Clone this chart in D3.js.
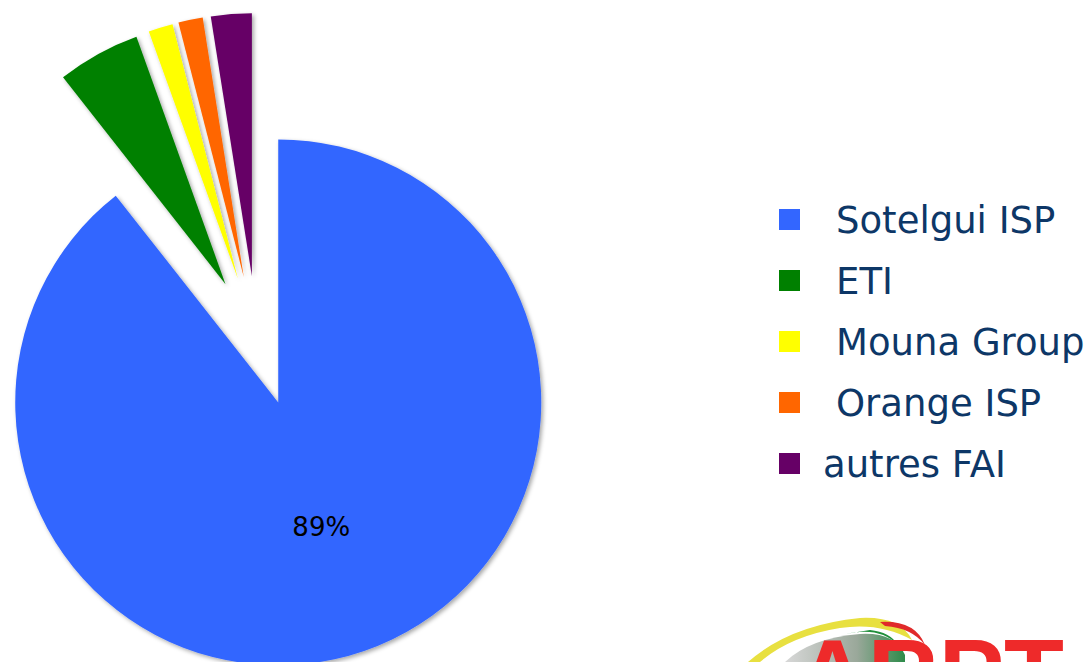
<!DOCTYPE html>
<html>
<head>
<meta charset="utf-8">
<script src="https://cdn.jsdelivr.net/npm/d3@7"></script>
<style>
  html, body { margin: 0; padding: 0; background: #ffffff; }
  svg { display: block; }
</style>
</head>
<body>
<svg id="chart" width="1090" height="662"></svg>
<script>
// ---- data ----
const categories = ["Sotelgui ISP", "ETI", "Mouna Group", "Orange ISP", "autres FAI"];
const shares = [89.4, 5.1, 1.5, 1.5, 2.5];
const colors = ["#3366FF", "#008000", "#FFFF00", "#FF6600", "#660066"];
const labelShown = [true, false, false, false, false];

// ---- layout ----
const W = 1090, H = 662;
const cx = 257, cy = 341, R = 263, explode = 65;

const svg = d3.select("#chart");
const defs = svg.append("defs");
const f = defs.append("filter").attr("id", "shadow")
  .attr("x", "-20%").attr("y", "-20%").attr("width", "140%").attr("height", "140%");
f.append("feDropShadow").attr("dx", 2).attr("dy", 2).attr("stdDeviation", 2.2)
  .attr("flood-color", "#000").attr("flood-opacity", 0.35);

const data = categories.map((c, i) => ({ name: c, value: shares[i], color: colors[i], label: labelShown[i] }));
const pie = d3.pie().sort(null).value(d => d.value).startAngle(0).endAngle(2 * Math.PI);
const arcs = pie(data);
const arc = d3.arc().innerRadius(0).outerRadius(R);

const g = svg.append("g").attr("transform", `translate(${cx},${cy})`);
const slices = g.selectAll("g.slice").data(arcs).enter().append("g")
  .attr("class", "slice")
  .attr("transform", d => {
    const a = (d.startAngle + d.endAngle) / 2;
    return `translate(${explode * Math.sin(a)},${-explode * Math.cos(a)})`;
  });
slices.append("path")
  .attr("d", arc)
  .attr("fill", d => d.data.color)
  .attr("filter", "url(#shadow)");

const total = d3.sum(shares);
slices.filter(d => d.data.label).append("text")
  .attr("transform", d => { const c = arc.centroid(d); return `translate(${c[0]},${c[1]})`; })
  .attr("text-anchor", "middle")
  .attr("dy", "0.36em")
  .attr("font-family", "DejaVu Sans, Verdana, sans-serif")
  .attr("font-size", 26)
  .attr("fill", "#000")
  .text(d => Math.round(d.data.value / total * 100) + "%");

// ---- legend ----
const leg = svg.append("g").attr("transform", "translate(779,209)");
const rows = leg.selectAll("g").data(data).enter().append("g")
  .attr("transform", (d, i) => `translate(0,${i * 61})`);
rows.append("rect").attr("width", 21).attr("height", 21).attr("fill", d => d.color);
rows.append("text")
  .attr("x", (d, i) => i < 4 ? 57 : 44)
  .attr("y", 24)
  .attr("font-family", "DejaVu Sans, Verdana, sans-serif")
  .attr("font-size", 37)
  .attr("fill", "#0d3767")
  .text(d => d.name);

// ---- logo (partially visible, bottom right) ----
const logo = svg.append("g");
const grad = defs.append("linearGradient").attr("id", "globe").attr("x1", "0").attr("y1", "0").attr("x2", "1").attr("y2", "0");
grad.append("stop").attr("offset", "0").attr("stop-color", "#d8d8d8");
grad.append("stop").attr("offset", "0.6").attr("stop-color", "#9aa89a");
grad.append("stop").attr("offset", "1").attr("stop-color", "#2e8b4a");
logo.append("path").attr("d", "M748,662 Q790,625 860,618 Q900,616 912,640 Q880,622 840,628 Q790,636 760,662 Z").attr("fill", "#e8e040");
logo.append("path").attr("d", "M785,662 Q810,638 860,634 Q895,632 905,655 L905,662 Z").attr("fill", "url(#globe)");
logo.append("path").attr("d", "M845,634 Q880,626 898,645 Q890,632 870,630 Z").attr("fill", "#1f8f3a");
logo.append("path").attr("d", "M880,622 Q915,620 925,645 Q912,628 885,626 Z").attr("fill", "#e02a2a");
logo.append("text")
  .attr("x", 797).attr("y", 708)
  .attr("font-family", "Liberation Sans, Arial, sans-serif")
  .attr("font-weight", "bold")
  .attr("font-size", 98)
  .attr("textLength", 267)
  .attr("lengthAdjust", "spacingAndGlyphs")
  .attr("fill", "#ee2a2a")
  .text("ARPT");
</script>
</body>
</html>
